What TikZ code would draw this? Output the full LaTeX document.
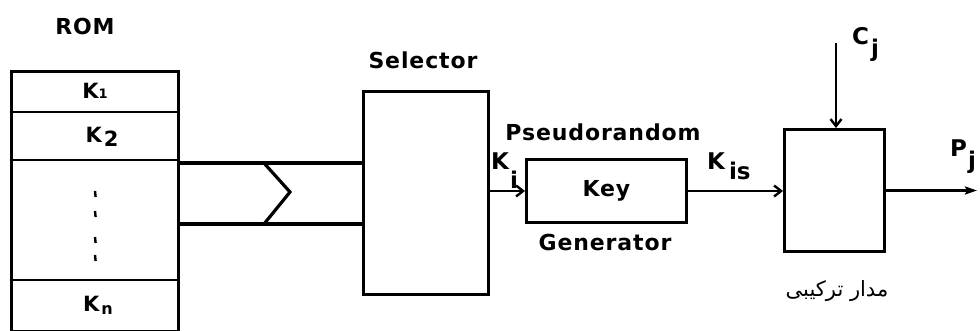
\documentclass[tikz,border=0pt]{standalone}
\usepackage{fontspec}
\setmainfont{DejaVu Sans}
\newfontfamily\labfont[LetterSpace=4]{DejaVu Sans}
\newfontfamily\fa[Script=Arabic]{DejaVu Sans}
\TeXXeTstate=1
\usetikzlibrary{arrows.meta}
\begin{document}
\begin{tikzpicture}[x=1pt,y=-1pt,
  box/.style={draw, line width=3pt, inner sep=0pt, anchor=north west},
  rowline/.style={line width=1.6pt},
  bus/.style={line width=3.2pt},
  lab/.style={font=\labfont\bfseries\fontsize{22}{22}\selectfont, inner sep=0pt},
  sym/.style={font=\bfseries\fontsize{23}{23}\selectfont, inner sep=0pt, anchor=base west},
  klab/.style={font=\bfseries\fontsize{21}{21}\selectfont, inner sep=0pt},
  arr/.style={line width=2.6pt, -{Straight Barb[length=7pt,width=11pt,line width=2.4pt]}},
  arrp/.style={line width=2.6pt, -{Stealth[length=12pt,width=8pt,inset=2pt]}}]
\useasboundingbox (0,0) rectangle (980,331);

% ROM
\node[lab] (romtxt) at (85,26) {ROM};
\node[box, minimum width=167pt, minimum height=260pt] (rom) at (10,70) {};
\coordinate (r1) at (0,112);
\coordinate (r2) at (0,160);
\coordinate (r3) at (0,280);
\draw[rowline] (rom.west |- r1) -- (rom.east |- r1);
\draw[rowline] (rom.west |- r2) -- (rom.east |- r2);
\draw[rowline] (rom.west |- r3) -- (rom.east |- r3);
\node[klab] (k1) at (95,91) {K\raisebox{0pt}{\fontsize{13}{13}\selectfont 1}};
\node[klab] (k2) at (102,137) {K\kern2pt\raisebox{-4pt}{2}};
\node[klab] (kn) at (98,305) {K\kern2pt\raisebox{-3pt}{\fontsize{16}{16}\selectfont n}};
\foreach \yy in {194,214,240,258} \draw[line width=2.4pt] (95,\yy-3) -- (95.6,\yy+3);

% Selector
\node[lab] (seltxt) at (423,60) {Selector};
\node[box, minimum width=125pt, minimum height=203pt] (sel) at (362,90) {};

% bus
\coordinate (bt) at (0,163);
\coordinate (bb) at (0,224);
\draw[bus] (rom.east |- bt) -- (sel.west |- bt);
\draw[bus] (rom.east |- bb) -- (sel.west |- bb);
\draw[bus] (263,162) -- (290,192) -- (264,224);

% Key generator
\node[box, minimum width=160pt, minimum height=63pt, font=\labfont\bfseries\fontsize{22}{22}\selectfont] (kg) at (525,158) {Key};
\node[lab] (pseudo) at (603,132) {Pseudorandom};
\node[lab] (gen) at (605,242) {Generator};
\draw[arr] (sel.east |- kg.west) -- (kg.west);
\node[sym] (ki) at (491,170) {K\kern1pt\raisebox{-19pt}{i}};

% combiner
\node[box, minimum width=100pt, minimum height=122pt] (comb) at (783,128) {};
\draw[arr] (kg.east) -- (comb.west |- kg.east);
\node[sym] (kis) at (707,170) {K\kern4pt\raisebox{-10pt}{is}};
\coordinate (cjtop) at (836,43);
\draw[arr] (cjtop) -- (cjtop |- comb.north);
\node[sym] (cj) at (852,45) {C\kern2pt\raisebox{-12pt}{j}};
\coordinate (pjend) at (977,0);
\draw[arrp] (comb.east) -- (pjend |- comb.east);
\node[sym] (pj) at (950,157) {P\kern1pt\raisebox{-12pt}{j}};
\node[font=\fa\fontsize{21}{21}\selectfont, inner sep=0pt] (fa) at (837,291) {\beginR مدار ترکیبی\endR};
\end{tikzpicture}
\end{document}
